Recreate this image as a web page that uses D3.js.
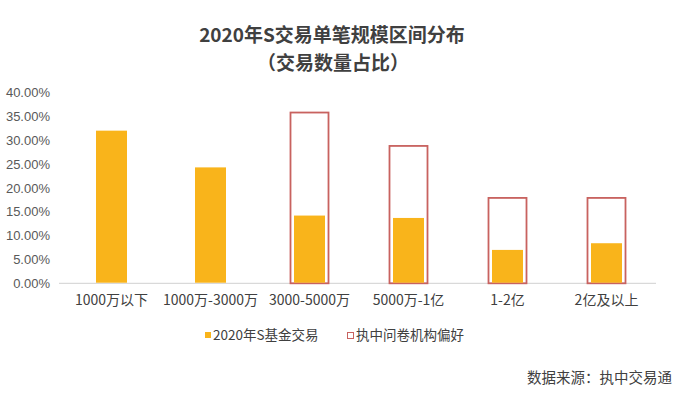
<!DOCTYPE html>
<html lang="zh">
<head>
<meta charset="UTF-8">
<title>2020年S交易单笔规模区间分布</title>
<script src="https://d3js.org/d3.v7.min.js"></script>
<style>
  body { margin: 0; background: #fff; }
  text { font-family: "Noto Sans CJK SC", "Noto Sans", sans-serif; }
</style>
</head>
<body>
<div id="chart"></div>
<script>
// data
const categories = ["1000万以下", "1000万-3000万", "3000-5000万", "5000万-1亿", "1-2亿", "2亿及以上"];
const trades2020 = [0.320, 0.243, 0.142, 0.137, 0.070, 0.084];
const surveyPref = [null, null, 0.358, 0.288, 0.179, 0.179];
const yTicks = [0, 0.05, 0.10, 0.15, 0.20, 0.25, 0.30, 0.35, 0.40];
const seriesNames = ["2020年S基金交易", "执中问卷机构偏好"];

const W = 693, H = 398;
const orange = "#F9B41B", red = "#C8625F";

const svg = d3.select("#chart").append("svg")
    .attr("width", W)
    .attr("height", H);

const x = d3.scaleBand().domain(categories).range([62, 656]);
const y = d3.scaleLinear().domain([0, 0.40]).range([283.3, 92.5]);

// title
svg.append("text").attr("x", 332).attr("y", 42)
    .attr("text-anchor", "middle").attr("font-size", 19).attr("font-weight", "bold")
    .attr("fill", "#404040").text("2020年S交易单笔规模区间分布");
svg.append("text").attr("x", 333).attr("y", 70)
    .attr("text-anchor", "middle").attr("font-size", 19).attr("font-weight", "bold")
    .attr("fill", "#404040").text("（交易数量占比）");

// y axis
const yAxis = svg.append("g")
    .attr("transform", "translate(50,0)")
    .call(d3.axisLeft(y).tickValues(yTicks).tickFormat(d3.format(".2%")).tickSize(0).tickPadding(0));
yAxis.select(".domain").remove();
yAxis.selectAll("text").attr("font-size", 13).attr("fill", "#595959")
    .style("font-family", "'Liberation Sans', Arial, sans-serif");

// x axis
const xAxis = svg.append("g")
    .attr("transform", "translate(0," + y(0) + ")")
    .call(d3.axisBottom(x).tickSize(0).tickPadding(12));
xAxis.select(".domain").remove();
xAxis.selectAll("text").attr("font-size", 14).attr("fill", "#404040");
svg.append("line")
    .attr("x1", 59).attr("x2", 656).attr("y1", y(0)).attr("y2", y(0))
    .attr("stroke", "#d9d9d9").attr("stroke-width", 1.2);

// survey outline bars
const outW = 38;
svg.selectAll("rect.survey")
    .data(categories.map((c, i) => ({c, v: surveyPref[i]})).filter(d => d.v != null))
    .enter().append("rect")
    .attr("class", "survey")
    .attr("x", d => x(d.c) + x.bandwidth() / 2 - outW / 2)
    .attr("y", d => y(d.v))
    .attr("width", outW)
    .attr("height", d => y(0) - y(d.v))
    .attr("fill", "none")
    .attr("stroke", red)
    .attr("stroke-width", 1.8);

// 2020 trade bars
const barW = 31;
svg.selectAll("rect.trade")
    .data(categories.map((c, i) => ({c, v: trades2020[i]})))
    .enter().append("rect")
    .attr("class", "trade")
    .attr("x", d => x(d.c) + x.bandwidth() / 2 - barW / 2)
    .attr("y", d => y(d.v))
    .attr("width", barW)
    .attr("height", d => y(0) - y(d.v) - 0.6)
    .attr("fill", orange);

// legend
const lg = svg.append("g").attr("transform", "translate(0,335)");
lg.append("rect").attr("x", 205).attr("y", -3).attr("width", 6).attr("height", 6).attr("fill", orange);
lg.append("text").attr("x", 213).attr("y", 5).attr("font-size", 13.5).attr("fill", "#404040").text(seriesNames[0]);
lg.append("rect").attr("x", 347.5).attr("y", -2.5).attr("width", 6).attr("height", 6)
    .attr("fill", "none").attr("stroke", red).attr("stroke-width", 1);
lg.append("text").attr("x", 356).attr("y", 5).attr("font-size", 13.5).attr("fill", "#404040").text(seriesNames[1]);

// source
svg.append("text").attr("x", 672).attr("y", 383)
    .attr("text-anchor", "end").attr("font-size", 14.5).attr("fill", "#404040")
    .text("数据来源：执中交易通");
</script>
</body>
</html>
